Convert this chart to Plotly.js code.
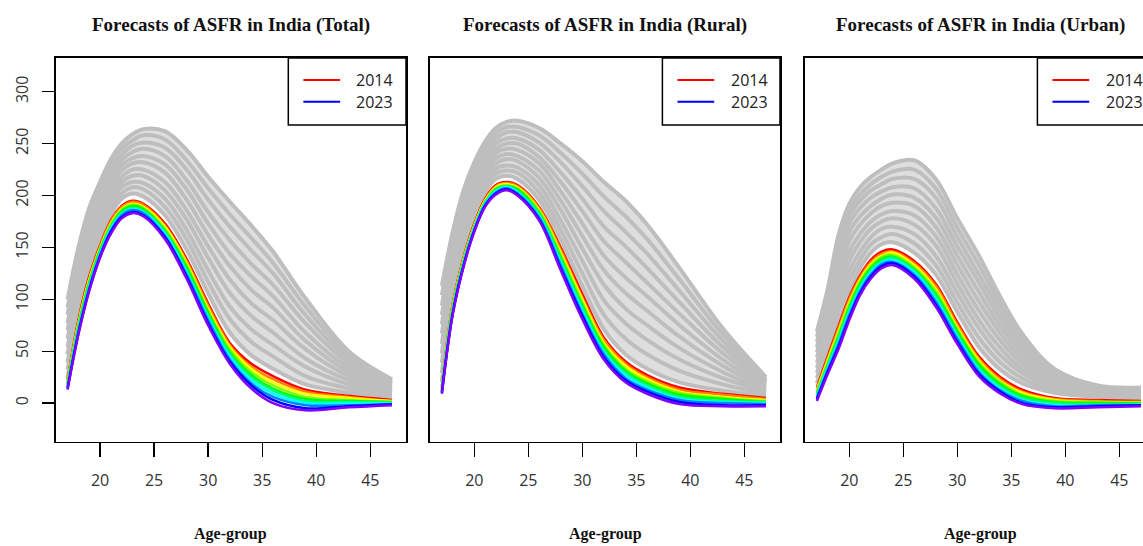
<!DOCTYPE html>
<html><head><meta charset="utf-8">
<script src="https://cdn.plot.ly/plotly-3.0.1.min.js"></script>
<style>html,body{margin:0;padding:0;overflow:hidden;background:#fff}#chart{width:1200px;height:546px}</style>
</head><body><div id="chart"></div><script>
// ---------------- data ----------------
const ages = [17,18,19,20,21,22,23,24,26,28,30,32,34,36,39,43,47];
const forecastYears = ['2014','2015','2016','2017','2018','2019','2020','2021','2022','2023'];
const panelTitles = ['Forecasts of ASFR in India (Total)','Forecasts of ASFR in India (Rural)','Forecasts of ASFR in India (Urban)'];
const xTicks = [20,25,30,35,40,45];
const yTicks = [0,50,100,150,200,250,300];
const legendYears = ['2014','2023'];

// past (observed) ASFR curves, oldest first
const totalPast = [
 [100,150,188,213,235,250,259,264,262,244,218,194,171,146,101,50,23],
 [92,143,182,208,230,245,253,258,254,234,207,182,159,135,93,46,21],
 [85,137,176,202,224,239,248,251,246,225,196,170,147,125,85,42,19],
 [77,130,170,197,219,234,242,245,238,215,184,157,134,114,77,38,18],
 [70,124,164,191,214,229,236,238,230,206,173,144,122,103,68,34,16],
 [62,117,158,186,209,224,231,232,222,196,162,132,109,92,60,30,14],
 [54,110,151,180,203,218,225,225,213,186,151,119,96,80,52,26,12],
 [47,104,145,175,198,213,219,219,205,177,140,106,84,68,43,22,10],
 [39,97,139,169,193,208,213,212,197,167,128,93,71,56,35,18,9],
 [32,91,133,164,187,202,208,206,189,158,117,81,59,45,26,14,7],
 [24,84,127,158,182,197,202,199,181,148,106,68,46,33,18,10,5]
];
const totalForecast = [
 [22,80,122,152,176,190,195,192,173,139,96,58,38,26,13,7,3],
 [21,78,120,151,175,189,194,191,171,137,94,56,35,23,11,6,2],
 [20,77,119,149,173,187,192,189,170,135,91,54,33,20,9,5,2],
 [19,75,117,148,172,186,191,188,168,133,89,52,30,17,6,3,1],
 [18,74,116,147,170,185,190,187,166,131,87,49,27,14,4,2,1],
 [17,72,114,145,169,183,188,185,165,128,84,47,25,12,2,1,0],
 [16,70,112,144,168,182,187,184,163,126,82,45,22,9,0,0,0],
 [15,69,111,143,166,181,186,183,161,124,80,42,19,6,-2,-2,-1],
 [14,67,109,141,165,179,184,181,160,122,77,40,17,3,-5,-3,-1],
 [13,66,108,140,163,178,183,180,158,120,75,38,14,0,-7,-4,-2]
];
const ruralPast = [
 [113,165,205,232,252,265,271,272,265,250,233,213,195,172,130,72,25],
 [104,159,199,227,247,260,266,266,258,241,221,199,180,158,119,66,23],
 [94,152,193,221,242,255,261,261,251,232,209,185,165,144,108,60,21],
 [85,146,187,216,237,250,255,255,244,222,197,170,151,130,97,54,20],
 [76,139,181,211,232,245,250,250,237,213,185,156,136,116,86,48,18],
 [67,133,176,206,228,241,245,244,231,204,173,142,121,103,75,42,16],
 [57,126,170,200,223,236,240,238,224,195,161,128,106,89,64,36,14],
 [48,120,164,195,218,231,235,233,217,186,149,114,91,75,53,30,12],
 [39,113,158,190,213,226,229,227,210,176,137,99,77,61,42,24,11],
 [29,107,152,184,208,221,224,222,203,167,125,85,62,47,31,18,9],
 [20,100,146,179,203,216,219,216,196,158,113,71,47,33,20,12,7]
];
const ruralForecast = [
 [16,95,140,173,197,210,213,210,189,150,105,63,40,27,15,9,5],
 [15,94,139,172,196,209,212,209,188,148,102,61,38,25,13,8,4],
 [14,93,138,171,195,208,211,208,186,145,100,58,36,23,11,6,3],
 [14,92,137,170,194,207,210,207,185,143,97,56,33,21,10,5,2],
 [13,91,136,169,193,206,209,206,183,140,94,54,31,19,8,4,1],
 [12,89,135,169,193,205,209,204,182,138,92,51,29,17,6,2,1],
 [11,88,134,168,192,204,208,203,180,135,89,49,27,15,4,1,0],
 [11,87,133,167,191,203,207,202,179,133,86,47,24,13,3,0,-1],
 [10,86,132,166,190,202,206,201,177,130,84,44,22,11,1,-2,-2],
 [9,85,131,165,189,201,205,200,176,128,81,42,20,9,-1,-3,-3]
];
const urbanPast = [
 [69,110,162,192,208,218,225,231,234,216,178,142,102,67,33,17,15],
 [64,104,155,186,201,211,218,223,225,207,169,133,95,62,31,16,14],
 [59,98,148,180,195,205,211,216,216,198,160,124,88,57,28,15,13],
 [54,92,141,173,188,198,204,208,207,188,151,116,81,53,26,14,12],
 [49,86,133,165,180,190,197,201,198,179,142,107,74,48,24,13,11],
 [44,80,124,156,172,183,190,193,190,170,133,98,67,43,22,12,10],
 [39,74,115,146,163,175,182,185,181,161,124,89,60,38,19,10,8],
 [34,68,106,137,155,168,175,178,172,152,115,80,53,33,17,9,7],
 [29,62,97,127,146,160,168,170,163,142,106,72,46,29,15,8,6],
 [24,56,89,118,138,153,160,163,154,133,97,63,39,24,12,7,5],
 [19,50,80,108,130,145,153,155,145,124,88,54,32,19,10,6,4]
];
const urbanForecast = [
 [15,45,74,102,123,138,146,148,137,115,78,45,25,13,5,3,2],
 [14,43,72,100,121,136,144,146,135,113,76,43,23,11,4,2,1],
 [12,41,69,97,119,134,142,145,133,110,73,41,21,10,3,1,1],
 [11,39,67,95,117,132,141,143,131,108,71,39,20,8,2,1,0],
 [9,37,64,92,115,130,139,141,129,105,69,37,18,7,1,0,0],
 [8,36,62,90,112,128,137,140,128,103,66,34,16,5,0,-1,-1],
 [7,34,59,87,110,126,135,138,126,100,64,32,14,3,-2,-2,-1],
 [5,32,57,85,108,124,134,136,124,98,62,30,12,2,-3,-2,-2],
 [4,30,54,82,106,122,132,135,122,95,59,28,11,0,-4,-3,-2],
 [2,28,52,80,104,120,130,133,120,93,57,26,9,-1,-5,-4,-3]
];

// ---------------- styling ----------------
const forecastColors = ['#FF0000','#FF8000','#FFFF00','#80FF00','#00FF00','#00FF80','#00FFFF','#0080FF','#0000FF','#8000FF'];
const legendColors = ['#FF0000','#0000FF'];
const W = 1200, H = 546;
const panelPx = [[55.7,406],[430,780],[805,1155]];
const plotTop = 58, plotBottom = 441.5;
const xRange = [15.9, 48.3];
const yRange = [-37, 332.5];
const tickFont = {family:'Open Sans, Liberation Sans, sans-serif', size:16, color:'#333'};

const panels = [
  {past: totalPast, fc: totalForecast},
  {past: ruralPast, fc: ruralForecast},
  {past: urbanPast, fc: urbanForecast}
];

const traces = [];
const shapes = [];
const annotations = [];
const layout = {
  width: W, height: H, margin:{l:0,r:0,t:0,b:0},
  paper_bgcolor:'#fff', plot_bgcolor:'#fff', showlegend:false,
  shapes: shapes, annotations: annotations
};

panels.forEach((p, i) => {
  const n = i === 0 ? '' : String(i+1);
  const xa = 'x' + n, ya = 'y' + n;
  p.past.forEach((vals, k) => {
    traces.push({x: ages, y: vals, xaxis: xa, yaxis: ya, type:'scatter', mode:'lines',
      line:{color:'#BEBEBE', width:4, shape:'spline'},
      fill: k === 0 ? 'none' : 'tonexty', fillcolor:'#DEDEDE', hoverinfo:'skip'});
  });
  p.fc.forEach((vals, k) => {
    traces.push({x: ages, y: vals, xaxis: xa, yaxis: ya, type:'scatter', mode:'lines',
      name: forecastYears[k], line:{color: forecastColors[k], width:2.5, shape:'spline'}, hoverinfo:'skip'});
  });
  layout['xaxis' + n] = {
    domain:[panelPx[i][0]/W, panelPx[i][1]/W], range:xRange, anchor: ya,
    tickvals:xTicks, ticks:'outside', ticklen:14, tickwidth:1.4, tickcolor:'#000',
    showline:true, mirror:true, linecolor:'#000', linewidth:1.6,
    showgrid:false, zeroline:false, tickfont:tickFont, ticklabelstandoff:10, automargin:false
  };
  layout['yaxis' + n] = {
    domain:[1-plotBottom/H, 1-plotTop/H], range:yRange, anchor: xa,
    tickvals:yTicks, ticks: i===0 ? 'outside' : '', ticklen:12, tickwidth:1.4, tickcolor:'#000',
    showticklabels: i===0, tickangle:-90,
    showline:true, mirror:true, linecolor:'#000', linewidth:1.6,
    showgrid:false, zeroline:false, tickfont:tickFont, ticklabelstandoff:8, automargin:false
  };
  const xd = xa + ' domain', yd = ya + ' domain';
  // legend box
  shapes.push({type:'rect', xref:xd, yref:yd, x0:0.664, x1:1, y0:0.825, y1:1,
    line:{color:'#000', width:1.5}, fillcolor:'#fff', layer:'above'});
  [0.9426, 0.886].forEach((yy, j) => {
    shapes.push({type:'line', xref:xd, yref:yd, x0:0.707, x1:0.812, y0:yy, y1:yy,
      line:{color:legendColors[j], width:2}, layer:'above'});
    annotations.push({xref:xd, yref:yd, x:0.97, y:yy, xanchor:'right', yanchor:'middle',
      text:legendYears[j], showarrow:false, font:{family:'Open Sans, sans-serif', size:16, color:'#222'}});
  });
  annotations.push({xref:xd, yref:'paper', x:0.5, y:1-25/H, xanchor:'center', yanchor:'middle',
    text:panelTitles[i], showarrow:false,
    font:{family:'Liberation Serif, serif', size:19, weight:'bold', color:'#111'}});
  annotations.push({xref:xd, yref:'paper', x:0.5, y:1-534/H, xanchor:'center', yanchor:'middle',
    text:'Age-group', showarrow:false,
    font:{family:'Liberation Serif, serif', size:16, weight:'bold', color:'#111'}});
});

Plotly.newPlot('chart', traces, layout, {staticPlot:true, displayModeBar:false});
</script></body></html>
